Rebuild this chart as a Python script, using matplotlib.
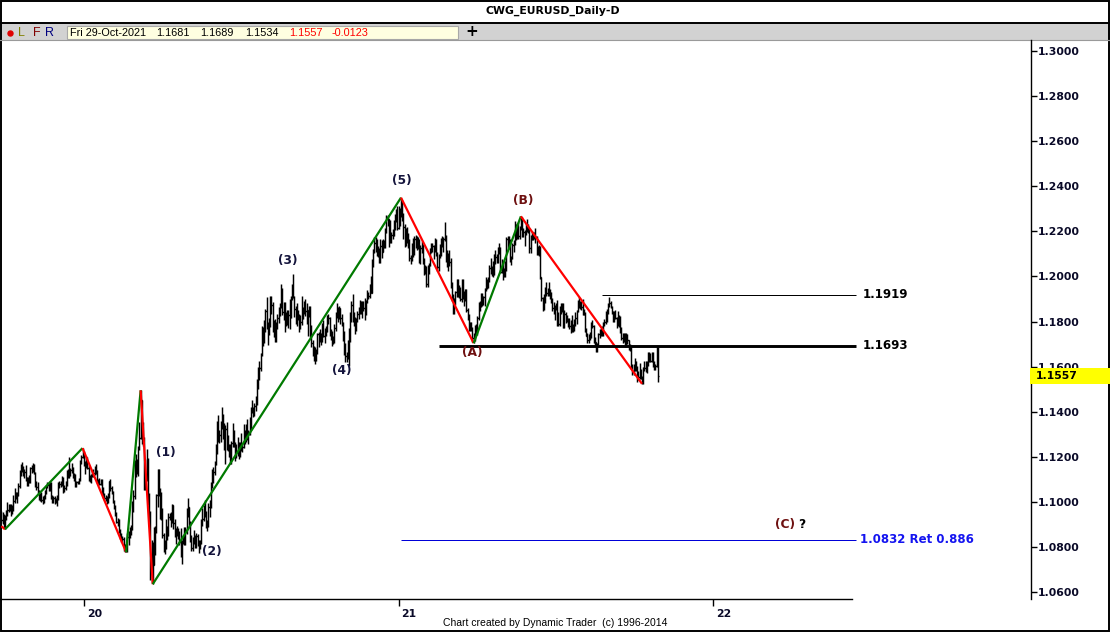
import numpy as np
import pandas as pd
import matplotlib
matplotlib.use('Agg')
import matplotlib.pyplot as plt
from matplotlib.patches import Rectangle
from matplotlib import transforms

# EURUSD daily bars 26-Sep-2019 .. 29-Oct-2021 (one line per month)
high = [
    1.0960, 1.0958, 1.0945,  # sep 19
    1.0943, 1.0965, 1.0999, 1.0990, 1.0990, 1.0990, 1.0985, 1.1030, 1.1063, 1.1045, 1.1045, 1.1085, 1.1140, 1.1170, 1.1179, 1.1160, 1.1145, 1.1165, 1.1110, 1.1110, 1.1120, 1.1155, 1.1165,  # oct 19
    1.1175, 1.1170, 1.1135, 1.1095, 1.1090, 1.1055, 1.1040, 1.1045, 1.1025, 1.1030, 1.1055, 1.1075, 1.1090, 1.1085, 1.1095, 1.1090, 1.1030, 1.1025, 1.1025, 1.1020, 1.1030,  # nov 19
    1.1090, 1.1095, 1.1095, 1.1115, 1.1110, 1.1075, 1.1095, 1.1140, 1.1145, 1.1199, 1.1150, 1.1175, 1.1155, 1.1130, 1.1125, 1.1095, 1.1095, 1.1105, 1.1185, 1.1210, 1.1239,  # dec 19
    1.1225, 1.1180, 1.1205, 1.1200, 1.1165, 1.1120, 1.1125, 1.1140, 1.1145, 1.1160, 1.1170, 1.1140, 1.1100, 1.1105, 1.1100, 1.1100, 1.1065, 1.1040, 1.1030, 1.1025, 1.1040, 1.1095,  # jan 20
    1.1100, 1.1070, 1.1050, 1.1010, 1.0985, 1.0955, 1.0930, 1.0925, 1.0880, 1.0865, 1.0850, 1.0845, 1.0815, 1.0815, 1.0865, 1.0870, 1.0890, 1.0900, 1.1005, 1.1055,  # feb 20
    1.1185, 1.1215, 1.1190, 1.1250, 1.1355, 1.1495, 1.1450, 1.1355, 1.1290, 1.1190, 1.1235, 1.1195, 1.1040, 1.0960, 1.0830, 1.0825, 1.0890, 1.0895, 1.1035, 1.1147, 1.1145, 1.1060,  # mar 20
    1.1045, 1.0975, 1.0865, 1.0830, 1.0925, 1.0895, 1.0950, 1.0950, 1.0955, 1.0990, 1.0985, 1.0925, 1.0885, 1.0895, 1.0885, 1.0870, 1.0885, 1.0830, 1.0855, 1.0890, 1.0890, 1.0975,  # apr 20
    1.1020, 1.0975, 1.0915, 1.0855, 1.0845, 1.0875, 1.0855, 1.0865, 1.0860, 1.0830, 1.0830, 1.0925, 1.0975, 1.0985, 1.1010, 1.0960, 1.0920, 1.0995, 1.1010, 1.1090, 1.1145,  # may 20
    1.1155, 1.1180, 1.1255, 1.1360, 1.1385, 1.1320, 1.1360, 1.1422, 1.1390, 1.1350, 1.1340, 1.1355, 1.1295, 1.1255, 1.1255, 1.1270, 1.1350, 1.1320, 1.1265, 1.1255, 1.1290, 1.1265,  # jun 20
    1.1265, 1.1305, 1.1260, 1.1345, 1.1320, 1.1345, 1.1370, 1.1320, 1.1375, 1.1420, 1.1450, 1.1420, 1.1440, 1.1470, 1.1545, 1.1600, 1.1625, 1.1660, 1.1780, 1.1775, 1.1805, 1.1855, 1.1908,  # jul 20
    1.1800, 1.1815, 1.1915, 1.1915, 1.1885, 1.1805, 1.1810, 1.1800, 1.1835, 1.1865, 1.1880, 1.1965, 1.1950, 1.1885, 1.1885, 1.1840, 1.1850, 1.1850, 1.1900, 1.1915, 1.1965,  # aug 20
    1.2011, 1.1915, 1.1870, 1.1880, 1.1850, 1.1835, 1.1830, 1.1915, 1.1865, 1.1890, 1.1900, 1.1880, 1.1840, 1.1870, 1.1870, 1.1785, 1.1720, 1.1690, 1.1685, 1.1680, 1.1750, 1.1755,  # sep 20
    1.1765, 1.1750, 1.1795, 1.1805, 1.1770, 1.1780, 1.1830, 1.1835, 1.1820, 1.1765, 1.1760, 1.1735, 1.1790, 1.1840, 1.1880, 1.1865, 1.1870, 1.1860, 1.1835, 1.1800, 1.1760, 1.1705,  # oct 20
    1.1665, 1.1720, 1.1770, 1.1840, 1.1890, 1.1920, 1.1840, 1.1820, 1.1815, 1.1845, 1.1865, 1.1895, 1.1890, 1.1890, 1.1890, 1.1905, 1.1895, 1.1940, 1.1930, 1.1965, 1.2000,  # nov 20
    1.2075, 1.2120, 1.2175, 1.2175, 1.2165, 1.2135, 1.2125, 1.2165, 1.2160, 1.2165, 1.2160, 1.2215, 1.2273, 1.2270, 1.2255, 1.2250, 1.2195, 1.2210, 1.2250, 1.2275, 1.2300, 1.2310,  # dec 20
    1.2310, 1.2305, 1.2349, 1.2340, 1.2280, 1.2230, 1.2215, 1.2220, 1.2190, 1.2165, 1.2095, 1.2150, 1.2170, 1.2180, 1.2185, 1.2180, 1.2175, 1.2165, 1.2140, 1.2155,  # jan 21
    1.2145, 1.2080, 1.2050, 1.2045, 1.2050, 1.2060, 1.2125, 1.2150, 1.2150, 1.2140, 1.2170, 1.2165, 1.2110, 1.2100, 1.2145, 1.2170, 1.2180, 1.2175, 1.2243, 1.2185,  # feb 21
    1.2115, 1.2105, 1.2115, 1.2080, 1.1975, 1.1920, 1.1905, 1.1935, 1.1990, 1.1990, 1.1960, 1.1955, 1.1990, 1.1990, 1.1935, 1.1945, 1.1945, 1.1860, 1.1835, 1.1800, 1.1800, 1.1775, 1.1750,  # mar 21
    1.1785, 1.1790, 1.1825, 1.1885, 1.1890, 1.1925, 1.1925, 1.1915, 1.1950, 1.1995, 1.1990, 1.1995, 1.2050, 1.2080, 1.2045, 1.2070, 1.2100, 1.2115, 1.2100, 1.2130, 1.2150, 1.2130,  # apr 21
    1.2075, 1.2065, 1.2035, 1.2070, 1.2175, 1.2180, 1.2180, 1.2165, 1.2090, 1.2150, 1.2160, 1.2245, 1.2230, 1.2235, 1.2240, 1.2225, 1.2266, 1.2265, 1.2215, 1.2205, 1.2235,  # may 21
    1.2255, 1.2230, 1.2215, 1.2185, 1.2200, 1.2195, 1.2195, 1.2215, 1.2180, 1.2135, 1.2140, 1.2135, 1.1995, 1.1910, 1.1920, 1.1955, 1.1975, 1.1950, 1.1975, 1.1945, 1.1930, 1.1905,  # jun 21
    1.1885, 1.1875, 1.1880, 1.1895, 1.1840, 1.1870, 1.1880, 1.1880, 1.1880, 1.1850, 1.1840, 1.1830, 1.1815, 1.1815, 1.1805, 1.1830, 1.1790, 1.1810, 1.1840, 1.1850, 1.1895, 1.1910,  # jul 21
    1.1890, 1.1890, 1.1900, 1.1855, 1.1840, 1.1770, 1.1750, 1.1745, 1.1755, 1.1800, 1.1805, 1.1785, 1.1730, 1.1710, 1.1705, 1.1750, 1.1765, 1.1770, 1.1780, 1.1800, 1.1810, 1.1845,  # aug 21
    1.1855, 1.1880, 1.1909, 1.1890, 1.1870, 1.1845, 1.1845, 1.1850, 1.1820, 1.1845, 1.1830, 1.1825, 1.1775, 1.1750, 1.1750, 1.1750, 1.1750, 1.1745, 1.1720, 1.1700, 1.1685, 1.1610,  # sep 21
    1.1610, 1.1640, 1.1625, 1.1605, 1.1580, 1.1615, 1.1590, 1.1560, 1.1600, 1.1625, 1.1625, 1.1625, 1.1665, 1.1665, 1.1660, 1.1665, 1.1665, 1.1625, 1.1610, 1.1692, 1.1689,  # oct 21
]
low = [
    1.0905, 1.0903, 1.0885,
    1.0879, 1.0920, 1.0940, 1.0955, 1.0960, 1.0940, 1.0945, 1.0960, 1.0995, 1.1015, 1.0995, 1.1025, 1.1060, 1.1115, 1.1135, 1.1115, 1.1105, 1.1095, 1.1070, 1.1070, 1.1085, 1.1085, 1.1130,
    1.1135, 1.1125, 1.1065, 1.1055, 1.1035, 1.1010, 1.1005, 1.1000, 1.0990, 1.0995, 1.1015, 1.1035, 1.1060, 1.1050, 1.1050, 1.1015, 1.0995, 1.0995, 1.0990, 1.0995, 1.0981,
    1.1010, 1.1060, 1.1065, 1.1070, 1.1040, 1.1045, 1.1055, 1.1070, 1.1105, 1.1105, 1.1115, 1.1130, 1.1105, 1.1095, 1.1065, 1.1065, 1.1080, 1.1080, 1.1095, 1.1170, 1.1195,
    1.1160, 1.1125, 1.1150, 1.1145, 1.1095, 1.1090, 1.1085, 1.1110, 1.1110, 1.1120, 1.1125, 1.1085, 1.1080, 1.1075, 1.1075, 1.1035, 1.1020, 1.1010, 1.1005, 1.0992, 1.0995, 1.1020,
    1.1050, 1.1035, 1.0995, 1.0970, 1.0940, 1.0905, 1.0895, 1.0865, 1.0835, 1.0825, 1.0820, 1.0785, 1.0780, 1.0778, 1.0780, 1.0810, 1.0840, 1.0855, 1.0875, 1.0955,
    1.1015, 1.1110, 1.1125, 1.1115, 1.1230, 1.1280, 1.1255, 1.1250, 1.1055, 1.1055, 1.1095, 1.0985, 1.0895, 1.0655, 1.0640, 1.0636, 1.0725, 1.0765, 1.0865, 1.0980, 1.1025, 1.0925,
    1.0920, 1.0840, 1.0780, 1.0770, 1.0790, 1.0830, 1.0850, 1.0920, 1.0890, 1.0905, 1.0880, 1.0845, 1.0815, 1.0850, 1.0835, 1.0810, 1.0755, 1.0727, 1.0815, 1.0810, 1.0810, 1.0860,
    1.0935, 1.0890, 1.0825, 1.0785, 1.0782, 1.0815, 1.0795, 1.0795, 1.0805, 1.0775, 1.0790, 1.0815, 1.0895, 1.0915, 1.0935, 1.0885, 1.0870, 1.0890, 1.0935, 1.0975, 1.1060,
    1.1085, 1.1120, 1.1165, 1.1215, 1.1265, 1.1260, 1.1265, 1.1325, 1.1280, 1.1230, 1.1170, 1.1230, 1.1225, 1.1200, 1.1170, 1.1170, 1.1245, 1.1245, 1.1180, 1.1195, 1.1205, 1.1190,
    1.1200, 1.1225, 1.1220, 1.1240, 1.1255, 1.1265, 1.1275, 1.1255, 1.1295, 1.1320, 1.1395, 1.1375, 1.1380, 1.1405, 1.1430, 1.1500, 1.1540, 1.1580, 1.1645, 1.1690, 1.1705, 1.1755, 1.1765,
    1.1695, 1.1740, 1.1775, 1.1835, 1.1755, 1.1730, 1.1710, 1.1710, 1.1765, 1.1795, 1.1825, 1.1860, 1.1830, 1.1805, 1.1755, 1.1780, 1.1785, 1.1770, 1.1765, 1.1815, 1.1895,
    1.1905, 1.1820, 1.1790, 1.1780, 1.1805, 1.1755, 1.1765, 1.1785, 1.1810, 1.1835, 1.1825, 1.1790, 1.1735, 1.1820, 1.1730, 1.1685, 1.1645, 1.1625, 1.1612, 1.1625, 1.1655, 1.1685,
    1.1710, 1.1695, 1.1710, 1.1730, 1.1705, 1.1735, 1.1755, 1.1790, 1.1735, 1.1720, 1.1690, 1.1700, 1.1705, 1.1760, 1.1815, 1.1800, 1.1810, 1.1790, 1.1780, 1.1715, 1.1650, 1.1620,
    1.1620, 1.1635, 1.1603, 1.1710, 1.1800, 1.1800, 1.1780, 1.1745, 1.1760, 1.1800, 1.1810, 1.1835, 1.1835, 1.1815, 1.1845, 1.1805, 1.1830, 1.1880, 1.1900, 1.1905, 1.1925,
    1.1925, 1.2040, 1.2105, 1.2110, 1.2090, 1.2085, 1.2060, 1.2060, 1.2080, 1.2110, 1.2125, 1.2125, 1.2190, 1.2225, 1.2130, 1.2150, 1.2150, 1.2165, 1.2180, 1.2205, 1.2240, 1.2205,
    1.2210, 1.2225, 1.2265, 1.2245, 1.2165, 1.2130, 1.2135, 1.2150, 1.2125, 1.2070, 1.2055, 1.2070, 1.2085, 1.2095, 1.2125, 1.2115, 1.2120, 1.2060, 1.2055, 1.2105,
    1.2055, 1.2005, 1.2010, 1.1955, 1.1952, 1.2010, 1.2045, 1.2105, 1.2110, 1.2075, 1.2110, 1.2090, 1.2025, 1.2025, 1.2080, 1.2090, 1.2130, 1.2110, 1.2155, 1.2065,
    1.2040, 1.2025, 1.2045, 1.1950, 1.1890, 1.1835, 1.1835, 1.1875, 1.1910, 1.1910, 1.1905, 1.1890, 1.1885, 1.1900, 1.1870, 1.1890, 1.1840, 1.1805, 1.1760, 1.1760, 1.1760, 1.1710, 1.1704,
    1.1715, 1.1745, 1.1740, 1.1805, 1.1845, 1.1865, 1.1870, 1.1875, 1.1870, 1.1935, 1.1945, 1.1950, 1.1975, 1.2010, 1.2000, 1.1995, 1.2005, 1.2055, 1.2060, 1.2060, 1.2100, 1.2015,
    1.2015, 1.1985, 1.1995, 1.1995, 1.2025, 1.2125, 1.2120, 1.2065, 1.2050, 1.2075, 1.2110, 1.2140, 1.2160, 1.2165, 1.2165, 1.2165, 1.2205, 1.2175, 1.2175, 1.2135, 1.2185,
    1.2195, 1.2190, 1.2105, 1.2105, 1.2160, 1.2160, 1.2165, 1.2150, 1.2095, 1.2095, 1.2090, 1.1990, 1.1890, 1.1845, 1.1850, 1.1880, 1.1915, 1.1915, 1.1915, 1.1900, 1.1880, 1.1845,
    1.1835, 1.1805, 1.1850, 1.1780, 1.1780, 1.1780, 1.1835, 1.1840, 1.1770, 1.1770, 1.1795, 1.1800, 1.1775, 1.1765, 1.1751, 1.1755, 1.1755, 1.1760, 1.1780, 1.1790, 1.1840, 1.1860,
    1.1855, 1.1850, 1.1830, 1.1830, 1.1755, 1.1735, 1.1705, 1.1705, 1.1720, 1.1725, 1.1770, 1.1705, 1.1695, 1.1665, 1.1664, 1.1695, 1.1725, 1.1735, 1.1735, 1.1735, 1.1780, 1.1790,
    1.1800, 1.1835, 1.1865, 1.1860, 1.1835, 1.1800, 1.1800, 1.1810, 1.1770, 1.1780, 1.1775, 1.1750, 1.1720, 1.1705, 1.1710, 1.1685, 1.1685, 1.1700, 1.1675, 1.1670, 1.1590, 1.1565,
    1.1565, 1.1580, 1.1580, 1.1530, 1.1540, 1.1545, 1.1545, 1.1524, 1.1525, 1.1580, 1.1575, 1.1570, 1.1605, 1.1620, 1.1620, 1.1620, 1.1600, 1.1585, 1.1585, 1.1600, 1.1534,
]
close = [
    1.0922, 1.0940, 1.0899,
    1.0933, 1.0960, 1.0965, 1.0978, 1.0970, 1.0955, 1.0972, 1.1005, 1.1040, 1.1030, 1.1032, 1.1070, 1.1124, 1.1155, 1.1150, 1.1127, 1.1132, 1.1105, 1.1080, 1.1097, 1.1110, 1.1152, 1.1152,
    1.1166, 1.1128, 1.1075, 1.1066, 1.1050, 1.1018, 1.1032, 1.1010, 1.1006, 1.1022, 1.1050, 1.1073, 1.1077, 1.1076, 1.1057, 1.1020, 1.1012, 1.1019, 1.1010, 1.1009, 1.1017,
    1.1080, 1.1082, 1.1078, 1.1103, 1.1060, 1.1064, 1.1090, 1.1129, 1.1130, 1.1121, 1.1143, 1.1150, 1.1113, 1.1121, 1.1078, 1.1090, 1.1089, 1.1100, 1.1178, 1.1200, 1.1212,
    1.1172, 1.1160, 1.1195, 1.1152, 1.1105, 1.1105, 1.1120, 1.1133, 1.1127, 1.1150, 1.1136, 1.1090, 1.1095, 1.1082, 1.1093, 1.1055, 1.1025, 1.1020, 1.1020, 1.1008, 1.1030, 1.1092,
    1.1060, 1.1043, 1.1000, 1.0980, 1.0945, 1.0910, 1.0917, 1.0873, 1.0840, 1.0830, 1.0837, 1.0791, 1.0805, 1.0790, 1.0845, 1.0852, 1.0880, 1.0880, 1.0995, 1.1027,
    1.1138, 1.1175, 1.1135, 1.1240, 1.1285, 1.1450, 1.1285, 1.1265, 1.1180, 1.1105, 1.1180, 1.1000, 1.0920, 1.0690, 1.0695, 1.0720, 1.0790, 1.0880, 1.1030, 1.1140, 1.1040, 1.1030,
    1.0965, 1.0855, 1.0800, 1.0795, 1.0890, 1.0855, 1.0935, 1.0935, 1.0913, 1.0985, 1.0905, 1.0865, 1.0875, 1.0863, 1.0855, 1.0822, 1.0780, 1.0822, 1.0825, 1.0825, 1.0875, 1.0955,
    1.0980, 1.0905, 1.0838, 1.0795, 1.0830, 1.0840, 1.0808, 1.0848, 1.0815, 1.0805, 1.0820, 1.0915, 1.0925, 1.0975, 1.0945, 1.0900, 1.0895, 1.0980, 1.1005, 1.1075, 1.1100,
    1.1135, 1.1170, 1.1235, 1.1335, 1.1290, 1.1295, 1.1340, 1.1375, 1.1300, 1.1255, 1.1325, 1.1265, 1.1245, 1.1205, 1.1175, 1.1260, 1.1310, 1.1250, 1.1220, 1.1220, 1.1245, 1.1235,
    1.1250, 1.1240, 1.1245, 1.1310, 1.1275, 1.1330, 1.1285, 1.1300, 1.1340, 1.1410, 1.1410, 1.1385, 1.1425, 1.1445, 1.1530, 1.1570, 1.1595, 1.1655, 1.1755, 1.1715, 1.1790, 1.1845, 1.1775,
    1.1765, 1.1800, 1.1865, 1.1875, 1.1785, 1.1735, 1.1740, 1.1785, 1.1815, 1.1840, 1.1870, 1.1930, 1.1840, 1.1860, 1.1795, 1.1795, 1.1835, 1.1830, 1.1820, 1.1905, 1.1935,
    1.1910, 1.1855, 1.1850, 1.1840, 1.1815, 1.1780, 1.1800, 1.1815, 1.1845, 1.1865, 1.1845, 1.1815, 1.1850, 1.1840, 1.1770, 1.1705, 1.1655, 1.1670, 1.1630, 1.1665, 1.1745, 1.1720,
    1.1745, 1.1715, 1.1780, 1.1735, 1.1760, 1.1760, 1.1825, 1.1815, 1.1745, 1.1745, 1.1705, 1.1718, 1.1770, 1.1825, 1.1860, 1.1815, 1.1860, 1.1815, 1.1795, 1.1745, 1.1675, 1.1645,
    1.1640, 1.1715, 1.1720, 1.1830, 1.1875, 1.1815, 1.1810, 1.1780, 1.1810, 1.1835, 1.1855, 1.1860, 1.1850, 1.1875, 1.1860, 1.1840, 1.1890, 1.1915, 1.1915, 1.1960, 1.1925,
    1.2070, 1.2115, 1.2150, 1.2120, 1.2110, 1.2100, 1.2080, 1.2135, 1.2110, 1.2145, 1.2150, 1.2195, 1.2265, 1.2255, 1.2240, 1.2160, 1.2185, 1.2185, 1.2215, 1.2250, 1.2295, 1.2215,
    1.2250, 1.2295, 1.2325, 1.2270, 1.2220, 1.2150, 1.2205, 1.2160, 1.2155, 1.2080, 1.2075, 1.2130, 1.2105, 1.2165, 1.2170, 1.2140, 1.2160, 1.2110, 1.2125, 1.2135,
    1.2060, 1.2040, 1.2035, 1.1965, 1.2045, 1.2050, 1.2120, 1.2120, 1.2135, 1.2120, 1.2130, 1.2100, 1.2040, 1.2090, 1.2120, 1.2155, 1.2150, 1.2165, 1.2175, 1.2075,
    1.2050, 1.2090, 1.2065, 1.1965, 1.1915, 1.1850, 1.1900, 1.1930, 1.1985, 1.1950, 1.1930, 1.1900, 1.1975, 1.1915, 1.1905, 1.1940, 1.1850, 1.1815, 1.1765, 1.1795, 1.1765, 1.1725, 1.1730,
    1.1775, 1.1760, 1.1815, 1.1875, 1.1870, 1.1915, 1.1900, 1.1910, 1.1945, 1.1980, 1.1965, 1.1985, 1.2035, 1.2035, 1.2035, 1.2010, 1.2095, 1.2085, 1.2090, 1.2125, 1.2125, 1.2020,
    1.2060, 1.2015, 1.2005, 1.2065, 1.2165, 1.2130, 1.2150, 1.2075, 1.2080, 1.2140, 1.2150, 1.2225, 1.2175, 1.2225, 1.2180, 1.2215, 1.2250, 1.2190, 1.2195, 1.2190, 1.2225,
    1.2215, 1.2210, 1.2125, 1.2165, 1.2190, 1.2175, 1.2180, 1.2175, 1.2105, 1.2120, 1.2125, 1.1995, 1.1905, 1.1860, 1.1915, 1.1940, 1.1925, 1.1930, 1.1935, 1.1925, 1.1895, 1.1860,
    1.1850, 1.1865, 1.1865, 1.1825, 1.1790, 1.1845, 1.1875, 1.1860, 1.1775, 1.1835, 1.1810, 1.1805, 1.1800, 1.1780, 1.1795, 1.1770, 1.1770, 1.1800, 1.1815, 1.1845, 1.1885, 1.1870,
    1.1870, 1.1865, 1.1835, 1.1835, 1.1760, 1.1735, 1.1720, 1.1740, 1.1730, 1.1795, 1.1780, 1.1710, 1.1710, 1.1675, 1.1700, 1.1745, 1.1755, 1.1770, 1.1755, 1.1795, 1.1800, 1.1805,
    1.1840, 1.1875, 1.1880, 1.1865, 1.1840, 1.1820, 1.1825, 1.1815, 1.1805, 1.1805, 1.1815, 1.1765, 1.1725, 1.1725, 1.1725, 1.1690, 1.1740, 1.1720, 1.1695, 1.1685, 1.1600, 1.1580,
    1.1595, 1.1620, 1.1595, 1.1555, 1.1555, 1.1570, 1.1550, 1.1530, 1.1595, 1.1595, 1.1600, 1.1610, 1.1650, 1.1650, 1.1625, 1.1645, 1.1610, 1.1595, 1.1605, 1.1680, 1.1557,
]
first_open = 1.0940

# wave count pivots
wave_dates = ['2019-09-26', '2019-10-01', '2019-12-31', '2020-02-20', '2020-03-09',
              '2020-03-23', '2021-01-06', '2021-03-31', '2021-05-25', '2021-10-12']
wave_prices = [1.0893, 1.0879, 1.1239, 1.0778, 1.1495, 1.0636, 1.2349, 1.1704, 1.2266, 1.1524]

wave_labels = ['(1)', '(2)', '(3)', '(4)', '(5)', '(A)', '(B)']
label_dates = ['2020-03-27', '2020-05-14', '2020-09-01', '2020-11-04', '2021-01-06', '2021-03-31', '2021-05-25']
label_prices = [1.1147, 1.0775, 1.2011, 1.1603, 1.2349, 1.1704, 1.2266]
label_offsets = [(8, 16), (13, 1), (-5, 13), (-7, -5), (1, 17), (-1, -9), (2, 16)]  # pixels

level_prices = [1.1919, 1.1693, 1.0832]
level_texts = ['1.1919', '1.1693', '1.0832 Ret 0.886']
level_starts = ['2021-08-26', '2021-02-18', '2021-01-06']
level_end = '2022-06-16'
c_label_date = '2022-03-31'

price_ticks = [1.06, 1.08, 1.10, 1.12, 1.14, 1.16, 1.18, 1.20, 1.22, 1.24, 1.26, 1.28, 1.30]
year_labels = ['20', '21', '22']
last_price = 1.1557
hdr_date = 'Fri 29-Oct-2021'
hdr_ohlc = ['1.1681', '1.1689', '1.1534']
hdr_close = ['1.1557', '-0.0123']

# trading calendar (weekdays, no 25-Dec / 1-Jan)
cal = pd.bdate_range('2019-09-26', '2022-12-30')
cal = cal[~(((cal.month == 12) & (cal.day == 25)) | ((cal.month == 1) & (cal.day == 1)))]
pos = {d: i for i, d in enumerate(cal)}
def xi(d):
    return pos[pd.Timestamp(d)]

n = len(close)
x = np.arange(n)
cl = np.array(close)
op = np.concatenate([[first_open], cl[:-1]])
hi = np.maximum(np.maximum(np.array(high[:n]), op), cl)
lo = np.minimum(np.minimum(np.array(low[:n]), op), cl)

W, H = 1110, 632
fig = plt.figure(figsize=(W / 100, H / 100), dpi=100)

# background / header layer in pixel coords
bg = fig.add_axes([0, 0, 1, 1])
bg.set_xlim(0, W)
bg.set_ylim(H, 0)
bg.axis('off')
bg.add_patch(Rectangle((0, 23), W, 17, fc='#d2d2d2', ec='none'))
bg.plot([0, W], [23, 23], color='black', lw=1.4)
bg.plot([0, W], [40, 40], color='#9a9a9a', lw=0.8)
bg.add_patch(Rectangle((0.5, 0.5), W - 1.5, H - 1.5, fill=False, ec='black', lw=1.4))
bg.text(553, 11, 'CWG_EURUSD_Daily-D', ha='center', va='center', fontsize=7.8,
        fontweight='bold', family='DejaVu Sans')
bg.plot([10], [32.5], 'o', ms=3.6, color='#e00000', mec='#e00000')
for t, xp, c in [('L', 21, '#808000'), ('F', 36.5, '#800000'), ('R', 50, '#000080')]:
    bg.text(xp, 32.5, t, ha='center', va='center', fontsize=9, color=c, family='Liberation Sans')
bg.add_patch(Rectangle((67, 25.5), 391, 13.5, fc='#ffffe1', ec='#a8a8a8', lw=0.8))
bg.text(70, 32.5, hdr_date, va='center', fontsize=7.8, family='Liberation Sans')
for t, xp in zip(hdr_ohlc, [156, 200, 245]):
    bg.text(xp, 32.5, t, va='center', fontsize=7.8, family='Liberation Sans')
for t, xp in zip(hdr_close, [289, 332]):
    bg.text(xp, 32.5, t, va='center', fontsize=7.8, color='#ff0000', family='Liberation Sans')
bg.text(472, 32, '+', ha='center', va='center', fontsize=11, fontweight='bold', family='DejaVu Sans')
bg.text(555, 623, 'Chart created by Dynamic Trader  (c) 1996-2014', ha='center', va='center',
        fontsize=7.5, family='Liberation Sans')

# price chart
px_per_bar, x0_px = 1.211, 1.37
top_px, bot_px, right_px = 40, 599, 1031
ppu, y130 = 2256.7, 50.7
ax = fig.add_axes([0, (H - bot_px) / H, right_px / W, (bot_px - top_px) / H])
ax.set_facecolor('none')
ax.set_xlim((0 - x0_px) / px_per_bar, (right_px - x0_px) / px_per_bar)
ax.set_ylim(1.30 - (bot_px - y130) / ppu, 1.30 + (y130 - top_px) / ppu)

ax.vlines(x, lo, hi, color='black', lw=1.05, zorder=2)
ax.hlines(op, x - 1.0, x, color='black', lw=0.9, zorder=2)
ax.hlines(cl, x, x + 1.0, color='black', lw=0.9, zorder=2)

for k in range(len(wave_dates) - 1):
    c = '#ff0000' if wave_prices[k + 1] < wave_prices[k] else '#007a00'
    ax.plot([xi(wave_dates[k]), xi(wave_dates[k + 1])], [wave_prices[k], wave_prices[k + 1]],
            color=c, lw=1.6, zorder=3, solid_capstyle='butt')

num_col, let_col = '#14143c', '#6e1010'
for t, d, p, off in zip(wave_labels, label_dates, label_prices, label_offsets):
    ax.annotate(t, (xi(d), p), xytext=off, textcoords='offset pixels', ha='center', va='center',
                fontsize=8.8, fontweight='bold', family='DejaVu Sans',
                color=let_col if t[1].isalpha() else num_col, annotation_clip=False, zorder=5)
ax.annotate('(C)', (xi(c_label_date), level_prices[2]), xytext=(-5, 15), textcoords='offset pixels',
            ha='center', va='center', fontsize=8.8, fontweight='bold', family='DejaVu Sans', color=let_col)
ax.annotate('?', (xi(c_label_date), level_prices[2]), xytext=(12, 15), textcoords='offset pixels',
            ha='center', va='center', fontsize=8.8, fontweight='bold', family='DejaVu Sans', color='black')

lvl_style = [('black', 0.72, 6), ('black', 2.1, 6), ('#0000d8', 0.72, 4)]
lvl_text_col = ['black', 'black', '#1414f0']
for p, t, s, st, tc in zip(level_prices, level_texts, level_starts, lvl_style, lvl_text_col):
    ax.plot([xi(s), xi(level_end)], [p, p], color=st[0], lw=st[1], zorder=4,
            solid_capstyle='butt')
    ax.annotate(t, (xi(level_end), p), xytext=(st[2], 0), textcoords='offset pixels',
                ha='left', va='center', fontsize=8.5, fontweight='bold', family='DejaVu Sans',
                color=tc, annotation_clip=False)

# axes
for s in ['left', 'top']:
    ax.spines[s].set_visible(False)
ax.spines['right'].set_linewidth(1.0)
ax.spines['bottom'].set_linewidth(1.0)
ax.spines['bottom'].set_bounds(ax.get_xlim()[0], (852 - x0_px) / px_per_bar)

ax.yaxis.tick_right()
ax.set_yticks(price_ticks)
ax.set_yticklabels(['%.4f' % v for v in price_ticks], fontweight='bold', family='DejaVu Sans')
ax.tick_params(axis='y', direction='out', length=4, width=1, pad=0.8, labelsize=7.8,
               labelcolor='#0a0a28', left=False)

year_pos = [int(np.argmax(cal.year == y)) for y in (2020, 2021, 2022)]
ax.set_xticks(year_pos)
ax.set_xticklabels(year_labels, fontweight='bold', family='DejaVu Sans', ha='left')
ax.tick_params(axis='x', direction='out', length=5, width=1, pad=2.2, labelsize=7.8,
               labelcolor='#0a0a28', top=False)
shift = transforms.ScaledTranslation(3 / 100, 0, fig.dpi_scale_trans)
for lbl in ax.get_xticklabels():
    lbl.set_transform(lbl.get_transform() + shift)

# last price flag
tr = transforms.blended_transform_factory(fig.transFigure, ax.transData)
ax.add_patch(Rectangle((1030 / W, last_price - 8 / ppu), 80 / W, 16 / ppu, transform=tr,
                       fc='#ffff00', ec='none', clip_on=False, zorder=6))
ax.text(1036 / W, last_price, '%.4f' % last_price, transform=tr, va='center', ha='left',
        fontsize=7.8, fontweight='bold', family='DejaVu Sans', color='black', zorder=7, clip_on=False)

fig.savefig('out.png', dpi=100)
